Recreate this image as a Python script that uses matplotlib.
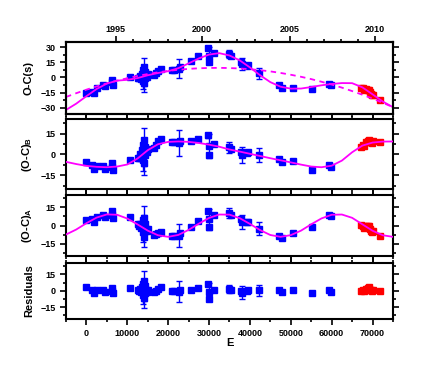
import numpy as np
import matplotlib
matplotlib.use("Agg")
import matplotlib.pyplot as plt
from matplotlib.ticker import MultipleLocator, FixedLocator, NullFormatter

plt.rcParams["font.family"] = ["Liberation Sans", "DejaVu Sans"]
plt.rcParams["font.weight"] = "bold"
plt.rcParams["mathtext.fontset"] = "custom"
plt.rcParams["mathtext.bf"] = "Liberation Sans:bold"
plt.rcParams["mathtext.rm"] = "Liberation Sans:bold"

# ---------------- model curves ----------------
curve_E = [-5000, -2500, 0, 2500, 5000, 7500, 10000, 12500, 15000, 17500, 20000,
           22500, 25000, 27500, 30000, 32500, 35000, 37500, 40000, 42500, 45000,
           47500, 50000, 52500, 55000, 57500, 60000, 62500, 65000, 67500, 70000,
           72500, 75000]
quad = [-19.2, -15.5, -12.0, -8.8, -5.8, -3.1, -0.7, 1.5, 3.4, 5.1, 6.5, 7.6, 8.5,
        9.1, 9.4, 9.5, 9.3, 8.9, 8.2, 7.2, 6.0, 4.5, 2.7, 0.7, -1.6, -4.2, -7.0,
        -10.0, -13.4, -17.0, -20.8, -24.9, -29.3]
ltt_a = [-7.4, -3.3, 1.9, 6.5, 9.1, 8.8, 5.7, 0.9, -4.2, -8.0, -9.3, -7.7, -3.6,
         1.5, 6.2, 9.0, 8.9, 6.0, 1.3, -3.8, -7.8, -9.3, -7.9, -4.2, 1.0, 5.8, 8.8,
         9.0, 6.3, 1.0, -4.3, -8.0, -9.3]
ltt_b = [-5.4, -7.0, -8.3, -9.0, -9.3, -8.8, -7.3, -3.0, 3.0, 7.3, 9.0, 9.3, 9.0,
         8.2, 7.0, 5.5, 3.5, 2.0, 0.4, -1.2, -2.8, -4.3, -5.8, -7.4, -8.8, -9.3,
         -8.2, -4.5, 1.5, 6.3, 8.5, 9.2, 9.3]

# ---------------- blue observations ----------------
blue_E = [0, 1300, 1800, 2600, 4000, 4500, 6200, 6300, 6400, 10600,
          12500, 12900, 13200, 13400, 13600, 13700, 13800, 13900, 14000, 14100,
          14200, 14300, 14400, 14600, 14800, 15000, 16500, 17000, 17500, 18200,
          21000, 21300, 22700, 22900, 25700, 27300, 29700, 29900, 30000, 31100,
          34900, 35400, 37900, 38100, 39300, 39600, 42100, 47000, 47800, 50500,
          55200, 59400, 59900]
blue_oc = [-15.4, -14.7, -15.3, -10.6, -7.6, -8.5, -2.1, -4.5, -7.0, 0.5,
           -0.1, -0.6, 1.7, -1.0, 0.6, 3.8, -3.1, 7.0, 2.5, -5.9,
           10.3, -0.6, 5.5, 2.2, 0.9, 3.2, 2.5, 4.0, 6.4, 7.9,
           7.3, 7.2, 8.6, 10.5, 16.3, 21.0, 28.6, 21.4, 15.1, 24.1,
           23.3, 21.4, 15.7, 13.2, 11.8, 12.1, 4.0, -7.7, -10.3, -10.0,
           -11.7, -6.2, -7.4]
blue_b = [-5.3, -7.7, -10.8, -8.5, -8.7, -10.7, -6.6, -9.0, -11.5, -3.8,
          -2.5, -2.5, 0.2, -2.3, -0.4, 2.9, -3.9, 6.4, 2.1, -6.2,
          10.1, -0.7, 5.6, 2.5, 1.5, 4.0, 4.6, 6.4, 9.3, 10.8,
          9.1, 8.6, 8.3, 9.8, 9.8, 10.8, 13.6, 6.0, -0.5, 7.3,
          5.1, 3.8, 1.7, -0.4, 0.8, 1.7, -0.4, -3.5, -5.5, -5.1,
          -11.3, -8.0, -9.2]
blue_a = [4.9, 5.3, 3.2, 7.1, 8.6, 7.1, 11.5, 9.0, 6.5, 7.0,
          1.4, -0.4, 1.0, -2.4, -1.3, 1.5, -5.7, 4.1, -0.7, -9.4,
          6.4, -4.8, 1.0, -2.9, -4.8, -3.2, -7.5, -7.2, -6.0, -5.4,
          -8.7, -9.0, -8.4, -6.5, -1.2, 3.6, 12.1, 5.0, -1.3, 8.4,
          10.4, 8.9, 5.2, 2.9, 2.6, 3.1, -2.5, -8.5, -10.1, -6.2,
          -1.1, 8.6, 7.7]
blue_res = [3.0, 1.0, -2.0, 0.5, 0.5, -1.5, 2.5, 0.0, -2.5, 2.5,
            0.5, -0.5, 1.5, -1.5, 0.0, 3.0, -4.0, 6.0, 1.5, -7.0,
            9.0, -2.0, 4.0, 0.5, -1.0, 1.0, -1.0, 0.0, 2.0, 3.0,
            0.0, -0.5, -1.0, 0.5, 1.0, 2.5, 6.5, -1.0, -7.5, 1.0,
            1.5, 0.5, 0.0, -2.0, 0.0, 1.0, 0.5, 0.5, -1.0, 1.0,
            -2.5, 0.5, -1.0]
blue_err = [1, 1, 1, 1, 1, 1, 1, 1, 1, 1,
            1, 1, 1, 1, 1, 1, 8, 2, 17, 2,
            2, 1, 1, 1, 1, 1, 1, 1, 1, 1,
            1, 1, 9.5, 1, 1, 1, 1.5, 8.5, 1.5, 1,
            4, 1, 1, 6, 1, 1, 5, 1, 1, 1,
            1, 1, 1]

# ---------------- red observations ----------------
red_E = [67100, 67600, 68000, 68400, 68800, 69100, 69300, 69600, 69900, 70200, 71800]
red_oc = [-10.1, -10.5, -12.7, -11.7, -11.9, -12.1, -14.7, -16.1, -17.3, -17.1, -22.0]
red_b = [5.5, 6.9, 6.2, 8.6, 9.9, 10.7, 8.8, 8.6, 8.4, 9.6, 9.0]
red_a = [0.5, 0.0, -1.8, -0.6, -0.5, -0.6, -3.0, -4.2, -5.3, -4.8, -8.2]
red_res = [0.0, 0.5, -0.5, 1.5, 2.5, 3.0, 1.0, 0.5, 0.0, 1.0, 0.0]
red_err = [1, 1, 1, 1, 1, 1, 1, 1, 1, 1, 1]

# top axis: years at cycle numbers
year_labels = [1995, 2000, 2005, 2010]
year_E = [7200, 28300, 49700, 70500]

x_ticks = [0, 10000, 20000, 30000, 40000, 50000, 60000, 70000]

BLUE = "#0000FF"
RED = "#FF0000"
MAG = "#FF00FF"

W, H = 439, 370
fig = plt.figure(figsize=(W / 100, H / 100), dpi=100)

def box(top, bottom, left=66, right=393):
    return [left / W, 1 - bottom / H, (right - left) / W, (bottom - top) / H]

ax1 = fig.add_axes(box(42, 114))
ax2 = fig.add_axes(box(119, 189))
ax3 = fig.add_axes(box(195, 256))
ax4 = fig.add_axes(box(263, 319))
axes = [ax1, ax2, ax3, ax4]

ce = np.array(curve_E)
q = np.array(quad)
a = np.array(ltt_a)
b = np.array(ltt_b)

def pts(ax, x, y, err, color):
    ax.errorbar(x, y, yerr=err, fmt="s", color=color, ms=3.8, mec=color,
                elinewidth=1.0, capsize=2.2, capthick=1.0, zorder=3)

# panel 1
pts(ax1, blue_E, blue_oc, blue_err, BLUE)
pts(ax1, red_E, red_oc, red_err, RED)
ax1.plot(ce, q + a + b, color=MAG, lw=1.3, zorder=4)
ax1.plot(ce, q, color=MAG, lw=1.3, ls=(0, (3, 2.5)), zorder=4)
ax1.set_ylim(-36, 35)
ax1.set_yticks([-30, -15, 0, 15, 30])
ax1.set_ylabel("O-C(s)")

# panel 2
pts(ax2, blue_E, blue_b, blue_err, BLUE)
pts(ax2, red_E, red_b, red_err, RED)
ax2.plot(ce, b, color=MAG, lw=1.3, zorder=4)
ax2.set_ylim(-25, 25.5)
ax2.set_yticks([-15, 0, 15])
ax2.set_ylabel(r"(O-C)$_\mathbf{B}$")

# panel 3
pts(ax3, blue_E, blue_a, blue_err, BLUE)
pts(ax3, red_E, red_a, red_err, RED)
ax3.plot(ce, a, color=MAG, lw=1.3, zorder=4)
ax3.set_ylim(-25, 25)
ax3.set_yticks([-15, 0, 15])
ax3.set_ylabel(r"(O-C)$_\mathbf{A}$")

# panel 4
pts(ax4, blue_E, blue_res, blue_err, BLUE)
pts(ax4, red_E, red_res, red_err, RED)
ax4.set_ylim(-26, 25.5)
ax4.set_yticks([-15, 0, 15])
ax4.set_ylabel("Residuals")
ax4.set_xlabel("E", fontsize=8, fontweight="bold", labelpad=0)

for i, ax in enumerate(axes):
    ax.set_xlim(-5000, 75000)
    ax.set_xticks(x_ticks)
    ax.xaxis.set_minor_locator(MultipleLocator(5000))
    ax.yaxis.set_minor_locator(MultipleLocator(7.5))
    for s in ax.spines.values():
        s.set_linewidth(1.5)
    ax.tick_params(which="both", direction="out", top=(i != 0), right=True,
                   labelsize=6.5, width=1.2)
    ax.tick_params(which="major", length=4)
    ax.tick_params(which="minor", length=2.5)
    ax.yaxis.label.set_size(8)
    ax.yaxis.label.set_weight("bold")
    ax.yaxis.set_label_coords(-0.098, 0.5)
    if ax is not ax4:
        ax.tick_params(labelbottom=False)
    for lab in ax.get_xticklabels() + ax.get_yticklabels():
        lab.set_fontweight("bold")

# top year axis
axt = ax1.twiny()
axt.set_xlim(ax1.get_xlim())
axt.set_xticks(year_E)
axt.set_xticklabels([str(y) for y in year_labels], fontsize=6.5, fontweight="bold")
yr_all = np.arange(year_labels[0] - 1, year_labels[-1] + 2)
axt.xaxis.set_minor_locator(FixedLocator(np.interp(yr_all, year_labels, year_E,
                                                    left=None, right=None)))
axt.tick_params(which="both", direction="out", width=1.2, pad=2)
axt.tick_params(which="major", length=4)
axt.tick_params(which="minor", length=2.5)
for s in axt.spines.values():
    s.set_linewidth(1.5)

fig.savefig("out.png", dpi=100)
